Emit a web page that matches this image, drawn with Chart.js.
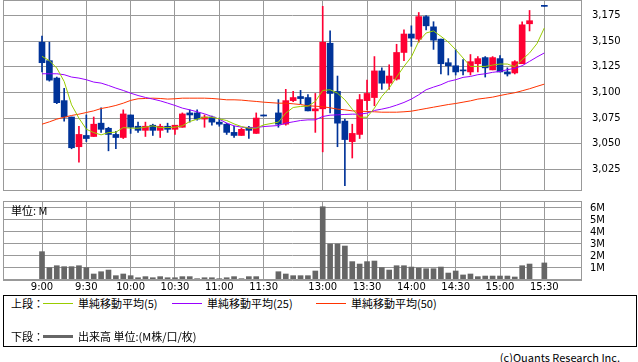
<!DOCTYPE html>
<html>
<head>
<meta charset="utf-8">
<script src="https://cdn.jsdelivr.net/npm/chart.js@4.4.1/dist/chart.umd.min.js"></script>
<style>
  body { margin: 0; width: 638px; height: 362px; background: #fff; position: relative; overflow: hidden;
         font-family: "Noto Sans CJK JP", sans-serif; color: #000; }
  #price { position: absolute; left: 0; top: 0; }
  #volume { position: absolute; left: 0; top: 195px; }
  .txt { position: absolute; font-size: 11px; line-height: 14px; white-space: nowrap; }
  .ln { position: absolute; height: 1px; width: 30px; }
  #legend { position: absolute; left: 3px; top: 295px; width: 634px; height: 52px; box-sizing: border-box; border: 1px solid #000; }
</style>
</head>
<body>
<canvas id="price" width="638" height="191"></canvas>
<canvas id="volume" width="638" height="100"></canvas>
<div class="txt" style="left:11px;top:203px;">単位: M</div>

<div id="legend"></div>
<div class="txt" style="left:11px;top:296px;">上段：</div>
<div class="ln" style="left:43px;top:303px;background:#99cc00;"></div>
<div class="txt" style="left:78px;top:296px;">単純移動平均(5)</div>
<div class="ln" style="left:172px;top:303px;background:#9900ff;"></div>
<div class="txt" style="left:207px;top:296px;">単純移動平均(25)</div>
<div class="ln" style="left:316px;top:303px;background:#ff3300;"></div>
<div class="txt" style="left:351px;top:296px;">単純移動平均(50)</div>
<div class="txt" style="left:11px;top:329px;">下段：</div>
<div class="ln" style="left:43px;top:335px;height:3px;background:#666;"></div>
<div class="txt" style="left:78px;top:329px;">出来高 単位:(M株/口/枚)</div>
<div class="txt" style="right:18px;top:350px;">(c)Quants Research Inc.</div>

<script>
// 5-minute slots; '' = lunch break slot
const times = ['9:00','9:05','9:10','9:15','9:20','9:25','9:30','9:35','9:40','9:45','9:50','9:55',
  '10:00','10:05','10:10','10:15','10:20','10:25','10:30','10:35','10:40','10:45','10:50','10:55',
  '11:00','11:05','11:10','11:15','11:20','11:25','11:30','',
  '12:30','12:35','12:40','12:45','12:50','12:55','13:00','13:05','13:10','13:15','13:20','13:25',
  '13:30','13:35','13:40','13:45','13:50','13:55','14:00','14:05','14:10','14:15','14:20','14:25',
  '14:30','14:35','14:40','14:45','14:50','14:55','15:00','15:05','15:10','15:15','15:20','15:25','15:30'];

const tickLabels = ['9:00','9:30','10:00','10:30','11:00','11:30','13:00','13:30','14:00','14:30','15:00','15:30'];
const priceTicks = [3025, 3050, 3075, 3100, 3125, 3150, 3175];
const volumeTicks = [0, 1, 2, 3, 4, 5, 6];

const open = [3149,3131,3114,3092,3076,3047,3058,3057,3070,3065,3059,3056,
  3078,3067,3063,3068,3063,3067,3064,3066,3080,3080,3074,3076,
  3071,3069,3061,3058,3066,3060,3078,null,
  3080,3069,3092,3096,3095,3082,3084,3148,3101,3072,3052,3059,
  3092,3095,3121,3109,3113,3139,3157,3152,3174,3164,3152,3129,
  3126,3122,3120,3128,3134,3122,3133,3120,3119,3128,3167,null,3185];
const high = [3155,3149,3115,3104,3076,3067,3078,3076,3085,3066,3062,3083,
  3078,3071,3071,3069,3069,3070,3068,3080,3083,3083,3078,3077,
  3075,3070,3067,3065,3067,3080,3078,null,
  3093,3103,3101,3102,3098,3099,3184,3160,3116,3074,3069,3098,
  3112,3135,3124,3127,3147,3161,3165,3178,3175,3169,3152,3133,
  3142,3132,3137,3135,3135,3135,3136,3124,3131,3169,3180,null,3185];
const low = [3120,3111,3089,3072,3045,3032,3052,3057,3061,3043,3045,3055,
  3060,3061,3057,3058,3056,3061,3059,3066,3071,3073,3066,3068,
  3067,3059,3056,3058,3055,3060,3077,null,
  3066,3068,3091,3089,3082,3061,3042,3080,3047,3009,3036,3055,
  3083,3087,3103,3103,3112,3131,3145,3149,3161,3142,3118,3117,
  3117,3117,3117,3120,3115,3122,3120,3116,3118,3128,3160,null,3184];
const close = [3129,3112,3090,3076,3046,3059,3055,3069,3064,3059,3056,3079,
  3066,3063,3067,3063,3067,3064,3068,3079,3078,3074,3076,3071,
  3069,3061,3058,3064,3063,3075,3077,null,
  3069,3092,3095,3094,3082,3084,3149,3099,3070,3054,3060,3093,
  3099,3121,3109,3116,3139,3157,3153,3174,3165,3151,3128,3126,
  3120,3121,3130,3133,3124,3134,3120,3118,3130,3166,3170,null,3184];

// moving averages as drawn (yen)
const sma5 = [3135.2,3131.0,3123.8,3110.7,3087.9,3074.9,3064.1,3060.8,3058.6,3060.8,3061.2,3065.7,
  3065.1,3065.1,3066.1,3067.4,3065.7,3065.7,3066.1,3067.4,3071.6,3073.9,3075.8,3075.8,
  3074.2,3072.6,3069.3,3066.7,3065.1,3065.1,3068.3,null,
  3071.0,3079.8,3085.3,3086.3,3086.6,3091.2,3101.9,3102.6,3099.3,3092.8,3083.7,3075.8,
  3075.8,3084.7,3096.1,3104.2,3115.0,3125.4,3134.6,3149.9,3158.0,3160.0,3154.8,3149.2,
  3141.7,3133.6,3125.4,3125.4,3125.4,3126.7,3127.7,3127.7,3125.1,3132.0,3138.5,3147.6,3162.9];
const sma25 = [3118.2,3118.2,3118.2,3117.3,3115.0,3114.0,3112.4,3110.1,3109.1,3106.8,3104.2,3101.9,
  3099.3,3097.0,3095.1,3093.5,3091.8,3089.6,3087.3,3084.7,3083.0,3081.1,3079.1,3076.5,
  3073.9,3070.0,3067.4,3066.1,3065.7,3065.7,3066.7,null,
  3067.7,3070.0,3071.3,3072.6,3073.2,3073.2,3076.5,3077.8,3078.1,3078.5,3078.8,3078.8,
  3079.8,3082.4,3083.7,3085.3,3087.6,3090.2,3093.5,3097.7,3102.6,3105.2,3107.5,3110.7,
  3112.4,3114.7,3115.6,3117.3,3118.2,3119.6,3120.5,3122.2,3123.5,3126.1,3130.3,3134.6,3138.5];
const sma50 = [3069.0,3071.3,3073.9,3075.8,3077.5,3078.8,3080.4,3082.0,3084.3,3085.6,3087.3,3089.5,
  3092.2,3093.8,3094.1,3094.4,3094.1,3093.5,3093.8,3094.4,3094.4,3094.4,3094.4,3094.1,
  3093.5,3092.8,3092.8,3092.5,3091.8,3091.2,3090.5,null,
  3089.5,3089.5,3088.9,3088.2,3086.9,3086.6,3086.0,3085.0,3083.7,3083.0,3082.0,3081.7,
  3081.4,3081.1,3080.7,3080.7,3080.7,3081.1,3081.7,3083.0,3084.3,3085.6,3086.9,3088.2,
  3089.2,3090.5,3091.8,3093.5,3094.4,3095.4,3097.0,3098.4,3099.7,3101.6,3103.6,3105.9,3108.1];

// volume, millions
const volume = [2.36,1.03,1.19,1.11,1.11,1.19,1.03,0.5,0.69,0.83,0.36,0.5,
  0.36,0.19,0.28,0.19,0.28,0.19,0.19,0.28,0.28,0.11,0.19,0.19,
  0.11,0.19,0.28,0.11,0.28,0.28,0.05,null,
  0.69,0.5,0.36,0.36,0.36,0.75,6.1,3.0,3.0,2.83,1.53,1.33,
  1.53,1.58,1.03,0.83,1.19,1.19,1.08,1.0,0.94,0.94,1.08,0.58,
  0.75,0.42,0.5,0.28,0.33,0.33,0.33,0.33,0.25,1.19,1.33,null,1.42];

const UP = '#ff0033', DOWN = '#003399', GRID = '#999999';
const X_MIN = -5.28, X_MAX = 73.1;

Chart.defaults.font.family = '"DejaVu Sans", sans-serif';
Chart.defaults.font.size = 10;
Chart.defaults.color = '#000';
Chart.defaults.animation = false;

const frame = {
  id: 'frame',
  afterDatasetsDraw(chart) {
    const a = chart.chartArea, c = chart.ctx;
    c.save();
    c.strokeStyle = GRID;
    c.lineWidth = 1;
    c.strokeRect(Math.round(a.left) + 0.5, Math.round(a.top) + 0.5,
      Math.round(a.right - a.left) - 1, Math.round(a.bottom - a.top) - 1);
    c.restore();
  }
};

const noPad = s => { s.paddingLeft = 0; s.paddingRight = 0; s.paddingTop = 0; s.paddingBottom = 0; };
const tickIdx = tickLabels.map(t => times.indexOf(t));
const xTicks = s => { s.ticks = tickIdx.map(v => ({ value: v })); };
const candleColor = ctx => {
  const i = ctx.raw ? ctx.raw.x : 0;
  return close[i] >= open[i] ? UP : DOWN;
};
const pts = arr => arr.map((v, i) => v == null ? null : { x: i, y: v }).filter(p => p);

function lineSet(data, color) {
  return { type: 'line', data: pts(data), borderColor: color, borderWidth: 1, pointRadius: 0,
           fill: false, tension: 0, spanGaps: true, order: 1 };
}

new Chart(document.getElementById('price'), {
  type: 'bar',
  data: {
    datasets: [
      lineSet(sma5, '#99cc00'),
      lineSet(sma25, '#9900ff'),
      lineSet(sma50, '#ff3300'),
      {
        data: times.map((t, i) => open[i] == null ? null : { x: i, y: [open[i], close[i]] }).filter(p => p),
        backgroundColor: candleColor, barThickness: 6, grouped: false, borderWidth: 0,
        borderSkipped: false, order: 2
      },
      {
        data: times.map((t, i) => open[i] == null ? null : { x: i, y: [low[i], high[i]] }).filter(p => p),
        backgroundColor: candleColor, barThickness: 1, grouped: false, borderWidth: 0,
        borderSkipped: false, order: 3
      }
    ]
  },
  options: {
    responsive: false,
    layout: { padding: { left: 3, top: 0, right: 0, bottom: 0 } },
    plugins: { legend: { display: false }, tooltip: { enabled: false } },
    scales: {
      x: {
        type: 'linear', min: X_MIN, max: X_MAX, offset: false,
        afterBuildTicks: xTicks,
        afterFit: s => { s.height = 0; noPad(s); },
        ticks: { display: false },
        grid: { color: GRID, drawTicks: false, offset: false },
        border: { display: false }
      },
      y: {
        position: 'right', min: 3003.8, max: 3190.2,
        afterBuildTicks: s => { s.ticks = priceTicks.map(v => ({ value: v })); },
        afterFit: s => { s.width = 56; noPad(s); },
        ticks: { padding: 10, autoSkip: false, callback: v => v.toLocaleString('en-US') },
        grid: { color: GRID, drawTicks: false },
        border: { display: false }
      }
    }
  },
  plugins: [frame]
});

new Chart(document.getElementById('volume'), {
  type: 'bar',
  data: {
    datasets: [{
      data: pts(volume),
      backgroundColor: '#666666', barThickness: 5, borderWidth: 0
    }]
  },
  options: {
    responsive: false,
    layout: { padding: { left: 3, top: 6, right: 0, bottom: 0 } },
    plugins: { legend: { display: false }, tooltip: { enabled: false } },
    scales: {
      x: {
        type: 'linear', min: X_MIN, max: X_MAX, offset: false,
        afterBuildTicks: xTicks,
        afterFit: s => { s.height = 15; noPad(s); },
        ticks: { padding: 1, maxRotation: 0, autoSkip: false, callback: v => times[v] },
        grid: { color: GRID, drawTicks: false, offset: false },
        border: { display: false }
      },
      y: {
        position: 'right', min: 0, max: 6.58,
        afterBuildTicks: s => { s.ticks = volumeTicks.map(v => ({ value: v })); },
        afterFit: s => { s.width = 56; noPad(s); },
        ticks: { padding: 8, autoSkip: false, callback: v => v === 0 ? '' : v + 'M' },
        grid: { color: GRID, drawTicks: false },
        border: { display: false }
      }
    }
  },
  plugins: [frame]
});
</script>
</body>
</html>
